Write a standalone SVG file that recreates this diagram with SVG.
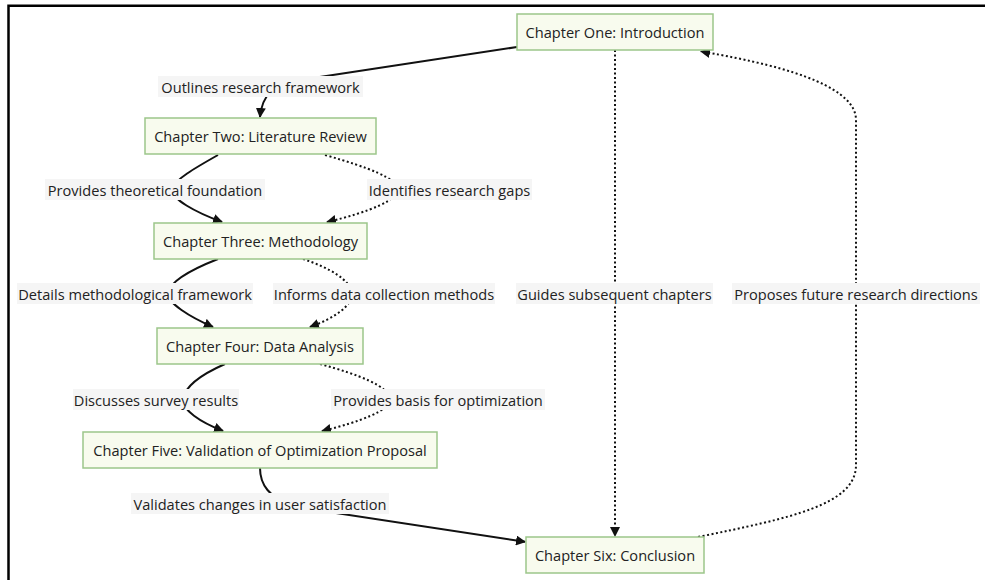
<svg xmlns="http://www.w3.org/2000/svg" width="985" height="580" viewBox="0 0 985 580">
<style>
  .node rect { fill: #f8fbee; stroke: #9cc68a; stroke-width: 1.5; }
  .node text, .lbl text { font-family: "Open Sans", "Noto Sans", "Liberation Sans", sans-serif; font-size: 14.6px; fill: #222; text-anchor: middle; dominant-baseline: central; }
  .lbl rect { fill: #f5f5f5; }
  .e { fill: none; stroke: #111; stroke-width: 2; }
  .d { stroke-dasharray: 2 2.5; }
</style>
<defs>
  <marker id="arr" viewBox="0 0 10 10" refX="9" refY="5" markerWidth="10" markerHeight="10" markerUnits="userSpaceOnUse" orient="auto">
    <path d="M0,0 L10,5 L0,10 z" fill="#111"/>
  </marker>
</defs>
<rect x="0" y="0" width="985" height="580" fill="#fff"/>
<path d="M8.5,580 L8.5,5.8 L985,5.8" fill="none" stroke="#000" stroke-width="2.5"/>

<g id="connectors">
  <path class="e" d="M517,47 L300,80 C272,84 262,96 260,117" marker-end="url(#arr)"/>
  <path class="e" d="M218,155 C195,168 174,180 172,189 C171,199 195,212 222,222" marker-end="url(#arr)"/>
  <path class="e d" d="M325,155 C370,168 396,178 398,189 C400,199 370,212 327,222" marker-end="url(#arr)"/>
  <path class="e" d="M218,259 C190,270 170,281 168,293 C167,303 190,317 213,327" marker-end="url(#arr)"/>
  <path class="e d" d="M303,259 C330,268 350,280 352,293 C353,305 335,318 310,327" marker-end="url(#arr)"/>
  <path class="e" d="M225,364 C200,375 185,386 183,399 C182,410 200,422 223,431" marker-end="url(#arr)"/>
  <path class="e d" d="M320,364 C360,375 388,386 390,399 C391,410 360,422 322,431" marker-end="url(#arr)"/>
  <path class="e" d="M260,468 C260,486 270,496 290,506 L525,541.8" marker-end="url(#arr)"/>
  <path class="e d" d="M615,50 L615,536" marker-end="url(#arr)"/>
  <path class="e d" d="M698,537 C790,518 856,505 856,465 L856,120 C856,90 800,68 701,51.5" marker-end="url(#arr)"/>
</g>

<g id="edge-labels">
  <g class="lbl"><rect x="158" y="76" width="205" height="21"/><text x="260.5" y="86.5">Outlines research framework</text></g>
  <g class="lbl"><rect x="45" y="179" width="220" height="21"/><text x="155" y="189.5">Provides theoretical foundation</text></g>
  <g class="lbl"><rect x="367" y="179" width="165" height="21"/><text x="449.5" y="189.5">Identifies research gaps</text></g>
  <g class="lbl"><rect x="17" y="283" width="236" height="21"/><text x="135" y="293.5">Details methodological framework</text></g>
  <g class="lbl"><rect x="273" y="283" width="222" height="21"/><text x="384" y="293.5">Informs data collection methods</text></g>
  <g class="lbl"><rect x="516" y="283" width="197" height="21"/><text x="614.5" y="293.5">Guides subsequent chapters</text></g>
  <g class="lbl"><rect x="732" y="283" width="248" height="21"/><text x="856" y="293.5">Proposes future research directions</text></g>
  <g class="lbl"><rect x="73" y="389" width="166" height="21"/><text x="156" y="399.5">Discusses survey results</text></g>
  <g class="lbl"><rect x="331" y="389" width="214" height="21"/><text x="438" y="399.5">Provides basis for optimization</text></g>
  <g class="lbl"><rect x="131" y="493" width="258" height="21"/><text x="260" y="503.5">Validates changes in user satisfaction</text></g>
</g>

<g id="ch1" class="node"><rect x="517" y="14" width="196" height="36"/><text x="615" y="32">Chapter One: Introduction</text></g>
<g id="ch2" class="node"><rect x="145" y="118" width="231" height="36"/><text x="260.5" y="136">Chapter Two: Literature Review</text></g>
<g id="ch3" class="node"><rect x="154" y="223" width="213" height="36"/><text x="260.5" y="241">Chapter Three: Methodology</text></g>
<g id="ch4" class="node"><rect x="157" y="328" width="206" height="36"/><text x="260" y="346">Chapter Four: Data Analysis</text></g>
<g id="ch5" class="node"><rect x="83" y="432" width="354" height="36"/><text x="260" y="450">Chapter Five: Validation of Optimization Proposal</text></g>
<g id="ch6" class="node"><rect x="526" y="537" width="178" height="36"/><text x="615" y="555">Chapter Six: Conclusion</text></g>
</svg>
